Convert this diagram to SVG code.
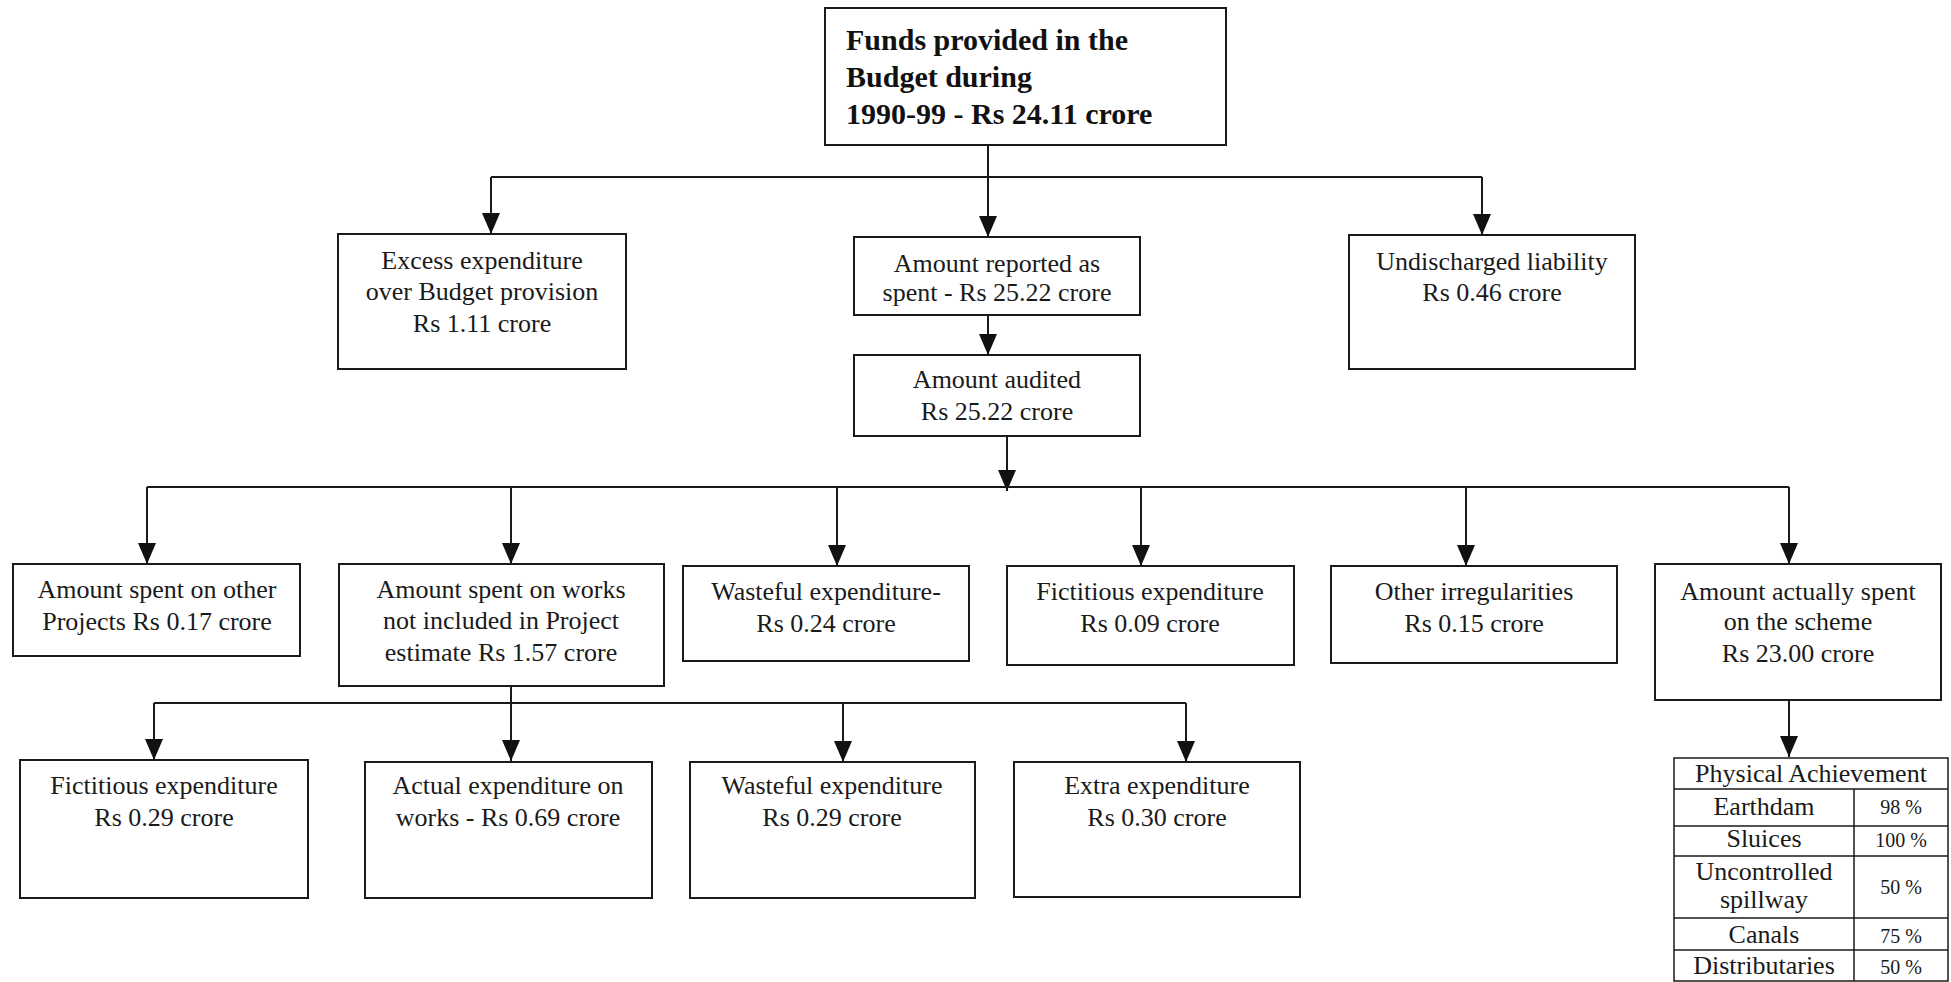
<svg xmlns="http://www.w3.org/2000/svg" width="1951" height="982" viewBox="0 0 1951 982">
<style>
.box{fill:#fff;stroke:#1a1a1a;stroke-width:2}
.t{font-family:"Liberation Serif","Times New Roman",serif;font-size:26px;fill:#1a1a1a;text-anchor:middle}
.b{font-family:"Liberation Serif","Times New Roman",serif;font-size:30px;font-weight:bold;fill:#111}
.s{font-family:"Liberation Serif","Times New Roman",serif;font-size:20px;fill:#1a1a1a;text-anchor:middle}
.c{fill:none;stroke:#1a1a1a;stroke-width:2}
.a{fill:none;stroke:#1a1a1a;stroke-width:2;marker-end:url(#arr)}
.g{stroke:#1a1a1a;stroke-width:1.5}
</style>
<defs>
<marker id="arr" markerUnits="userSpaceOnUse" markerWidth="22" markerHeight="20" refX="21" refY="9" orient="auto">
<path d="M0,0 L21,9 L0,18 z" fill="#111"/>
</marker>
</defs>
<rect width="1951" height="982" fill="#fff"/>
<g id="connectors">
<line class="a" x1="988" y1="145" x2="988" y2="237"/>
<line class="c" x1="491" y1="177" x2="1482" y2="177"/>
<line class="a" x1="491" y1="177" x2="491" y2="234"/>
<line class="a" x1="1482" y1="177" x2="1482" y2="235"/>
<line class="a" x1="988" y1="315" x2="988" y2="355"/>
<line class="a" x1="1007" y1="436" x2="1007" y2="491"/>
<line class="c" x1="147" y1="487" x2="1789" y2="487"/>
<line class="a" x1="147" y1="487" x2="147" y2="564"/>
<line class="a" x1="511" y1="487" x2="511" y2="564"/>
<line class="a" x1="837" y1="487" x2="837" y2="566"/>
<line class="a" x1="1141" y1="487" x2="1141" y2="566"/>
<line class="a" x1="1466" y1="487" x2="1466" y2="566"/>
<line class="a" x1="1789" y1="487" x2="1789" y2="564"/>
<line class="a" x1="511" y1="686" x2="511" y2="761"/>
<line class="c" x1="154" y1="703" x2="1186" y2="703"/>
<line class="a" x1="154" y1="703" x2="154" y2="760"/>
<line class="a" x1="843" y1="703" x2="843" y2="762"/>
<line class="a" x1="1186" y1="703" x2="1186" y2="762"/>
<line class="a" x1="1789" y1="700" x2="1789" y2="757"/>
</g>
<g id="funds">
<rect class="box" x="825" y="8" width="401" height="137"/>
<text class="b" x="846" y="50">Funds provided in the</text>
<text class="b" x="846" y="87">Budget during</text>
<text class="b" x="846" y="124">1990-99 - Rs 24.11 crore</text>
</g>
<g id="excess">
<rect class="box" x="338" y="234" width="288" height="135"/>
<text class="t" x="482" y="269">Excess expenditure</text>
<text class="t" x="482" y="300">over Budget provision</text>
<text class="t" x="482" y="332">Rs 1.11 crore</text>
</g>
<g id="reported">
<rect class="box" x="854" y="237" width="286" height="78"/>
<text class="t" x="997" y="272">Amount reported as</text>
<text class="t" x="997" y="301">spent - Rs 25.22 crore</text>
</g>
<g id="audited">
<rect class="box" x="854" y="355" width="286" height="81"/>
<text class="t" x="997" y="388">Amount audited</text>
<text class="t" x="997" y="420">Rs 25.22 crore</text>
</g>
<g id="undischarged">
<rect class="box" x="1349" y="235" width="286" height="134"/>
<text class="t" x="1492" y="270">Undischarged liability</text>
<text class="t" x="1492" y="301">Rs 0.46 crore</text>
</g>
<g id="otherprojects">
<rect class="box" x="13" y="564" width="287" height="92"/>
<text class="t" x="157" y="598">Amount spent on other</text>
<text class="t" x="157" y="630">Projects Rs 0.17 crore</text>
</g>
<g id="works">
<rect class="box" x="339" y="564" width="325" height="122"/>
<text class="t" x="501" y="598">Amount spent on works</text>
<text class="t" x="501" y="629">not included in Project</text>
<text class="t" x="501" y="661">estimate Rs 1.57 crore</text>
</g>
<g id="wasteful1">
<rect class="box" x="683" y="566" width="286" height="95"/>
<text class="t" x="826" y="600">Wasteful expenditure-</text>
<text class="t" x="826" y="632">Rs 0.24 crore</text>
</g>
<g id="fictitious1">
<rect class="box" x="1007" y="566" width="287" height="99"/>
<text class="t" x="1150" y="600">Fictitious expenditure</text>
<text class="t" x="1150" y="632">Rs 0.09 crore</text>
</g>
<g id="irregularities">
<rect class="box" x="1331" y="566" width="286" height="97"/>
<text class="t" x="1474" y="600">Other irregularities</text>
<text class="t" x="1474" y="632">Rs 0.15 crore</text>
</g>
<g id="actually">
<rect class="box" x="1655" y="564" width="286" height="136"/>
<text class="t" x="1798" y="600">Amount actually spent</text>
<text class="t" x="1798" y="630">on the scheme</text>
<text class="t" x="1798" y="662">Rs 23.00 crore</text>
</g>
<g id="fictitious2">
<rect class="box" x="20" y="760" width="288" height="138"/>
<text class="t" x="164" y="794">Fictitious expenditure</text>
<text class="t" x="164" y="826">Rs 0.29 crore</text>
</g>
<g id="actualworks">
<rect class="box" x="365" y="762" width="287" height="136"/>
<text class="t" x="508" y="794">Actual expenditure on</text>
<text class="t" x="508" y="826">works - Rs 0.69 crore</text>
</g>
<g id="wasteful2">
<rect class="box" x="690" y="762" width="285" height="136"/>
<text class="t" x="832" y="794">Wasteful expenditure</text>
<text class="t" x="832" y="826">Rs 0.29 crore</text>
</g>
<g id="extra">
<rect class="box" x="1014" y="762" width="286" height="135"/>
<text class="t" x="1157" y="794">Extra expenditure</text>
<text class="t" x="1157" y="826">Rs 0.30 crore</text>
</g>
<g id="physical">
<rect x="1674" y="758" width="274" height="223" fill="#fff" class="g"/>
<line class="g" x1="1674" y1="789" x2="1948" y2="789"/>
<line class="g" x1="1674" y1="826" x2="1948" y2="826"/>
<line class="g" x1="1674" y1="856" x2="1948" y2="856"/>
<line class="g" x1="1674" y1="918" x2="1948" y2="918"/>
<line class="g" x1="1674" y1="950" x2="1948" y2="950"/>
<line class="g" x1="1854" y1="789" x2="1854" y2="981"/>
<text class="t" x="1811" y="782">Physical Achievement</text>
<text class="t" x="1764" y="815">Earthdam</text>
<text class="s" x="1901" y="814">98 %</text>
<text class="t" x="1764" y="847">Sluices</text>
<text class="s" x="1901" y="847">100 %</text>
<text class="t" x="1764" y="880">Uncontrolled</text>
<text class="t" x="1764" y="908">spillway</text>
<text class="s" x="1901" y="894">50 %</text>
<text class="t" x="1764" y="943">Canals</text>
<text class="s" x="1901" y="943">75 %</text>
<text class="t" x="1764" y="974">Distributaries</text>
<text class="s" x="1901" y="974">50 %</text>
</g>
</svg>
